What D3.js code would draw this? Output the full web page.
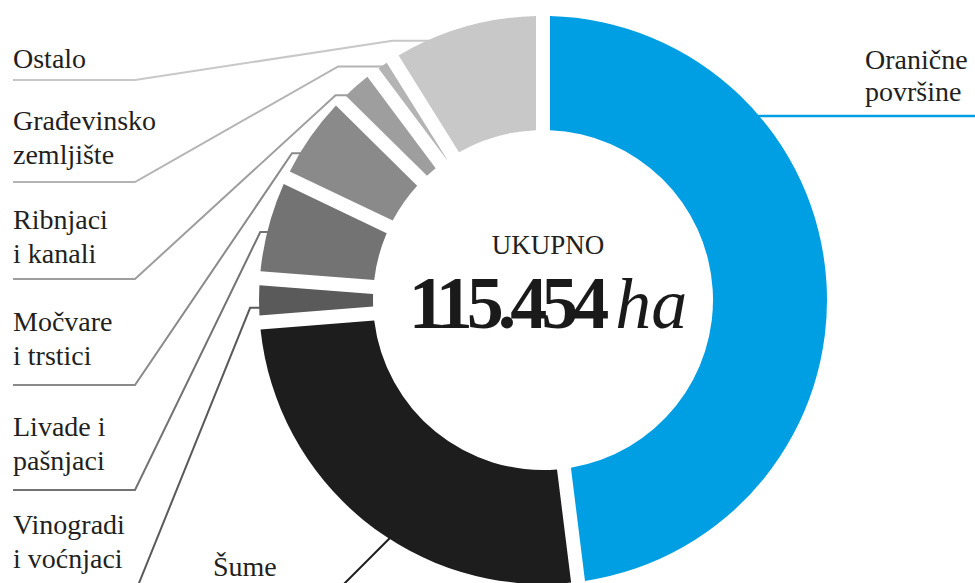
<!DOCTYPE html>
<html>
<head>
  <meta charset="utf-8">
  <script src="https://cdnjs.cloudflare.com/ajax/libs/d3/7.8.5/d3.min.js"></script>
  <style>
    body { margin: 0; background: #fff; overflow: hidden; }
  </style>
</head>
<body>
<div id="chart"></div>
<script>
// land use, clockwise from 12 o'clock (hectares)
var categories = ["Oranične površine", "Šume", "Vinogradi i voćnjaci", "Livade i pašnjaci",
                  "Močvare i trstici", "Ribnjaci i kanali", "Građevinsko zemljište", "Ostalo"];
var hectares = [58200, 30700, 2100, 6250, 5570, 1980, 680, 9974];
var colors = ["#009fe3", "#1d1d1d", "#5a5a5a", "#737373", "#8a8a8a", "#9e9e9e", "#b4b4b4", "#c8c8c8"];
var labelLines = [["Oranične", "površine"], ["Šume"], ["Vinogradi", "i voćnjaci"], ["Livade i", "pašnjaci"],
                  ["Močvare", "i trstici"], ["Ribnjaci", "i kanali"], ["Građevinsko", "zemljište"], ["Ostalo"]];
var totalTitle = "UKUPNO";
var totalValue = "115.454";
var totalUnit = "ha";

// layout of the leader lines: where on the slice they hit, row of the label
var anchorT = [0.286, 0.43, 0.33, 0.45, 0.3, 0.2, 0.5, 0.26];
var hookLen = [0, 0, 10, 8, 9, 12, 45, 37];
var underY = [0, 0, 593, 490, 385, 279, 182, 80];
var textGap = [0, 0, 25, 20, 20, 16, 18, 12];

var width = 975,
    height = 583;
var cx = 543, cy = 300,
    outerR = 284, innerR = 170,
    gap = 14;
var serif = "'Liberation Serif', 'Times New Roman', Times, 'DejaVu Serif', serif";

var svg = d3.select("#chart")
  .append("svg")
    .attr("width", width)
    .attr("height", height)
    .attr("font-family", serif);

var pie = d3.pie()
  .sort(null)
  .value(function(d) { return d; })
  .padAngle(gap / outerR);

var arc = d3.arc()
  .innerRadius(innerR)
  .outerRadius(outerR)
  .padRadius(outerR);

var arcs = pie(hectares);

var g = svg.append("g")
  .attr("transform", "translate(" + cx + "," + cy + ")");

g.selectAll("path")
  .data(arcs)
  .enter().append("path")
    .attr("d", arc)
    .style("fill", function(d, i) { return colors[i]; });

// point on the outer edge of slice i
function anchor(i, r) {
  var a = arcs[i].startAngle + anchorT[i] * (arcs[i].endAngle - arcs[i].startAngle);
  return [cx + r * Math.sin(a), cy - r * Math.cos(a)];
}

function label(x, y, str) {
  return svg.append("text")
    .attr("x", x)
    .attr("y", y)
    .attr("font-family", serif)
    .style("font-size", "28px")
    .style("fill", "#231f20")
    .text(str);
}

var lineGen = d3.line();
var lineH = 34;

// left side labels (Vinogradi .. Ostalo)
for (var i = 2; i < categories.length; i++) {
  var p = anchor(i, outerR - 1);
  var pts = [[13, underY[i]], [135, underY[i]], [p[0] - hookLen[i], p[1]], p];
  svg.append("path")
    .attr("d", lineGen(pts))
    .style("fill", "none")
    .style("stroke", colors[i])
    .style("stroke-width", 2);

  var lines = labelLines[i];
  var base = underY[i] - textGap[i];
  for (var j = 0; j < lines.length; j++) {
    label(13, base - (lines.length - 1 - j) * lineH, lines[j]);
  }
}

// Oranične povrsine, blue line to the right edge
var pb = anchor(0, outerR - 1);
svg.append("line")
  .attr("x1", pb[0]).attr("y1", pb[1])
  .attr("x2", width).attr("y2", pb[1])
  .style("stroke", colors[0])
  .style("stroke-width", 2.5);
labelLines[0].forEach(function(t, j) {
  label(865, pb[1] - 47 + j * 32, t);
});

// Sume, short diagonal into the black slice
var ps = anchor(1, outerR - 2);
svg.append("line")
  .attr("x1", ps[0]).attr("y1", ps[1])
  .attr("x2", ps[0] - 60).attr("y2", ps[1] + 60)
  .style("stroke", colors[1])
  .style("stroke-width", 2);
label(213, 576, labelLines[1][0]);

// total in the middle
label(cx + 5, 254, totalTitle)
  .attr("text-anchor", "middle")
  .style("font-size", "27px");

var total = svg.append("text")
  .attr("x", cx + 5)
  .attr("y", 328)
  .attr("text-anchor", "middle")
  .attr("font-family", serif)
  .style("fill", "#1a1a1a");
total.append("tspan")
  .style("font-size", "74px")
  .style("font-weight", "bold")
  .style("letter-spacing", "-6px")
  .text(totalValue);
total.append("tspan")
  .attr("dx", 12)
  .style("font-size", "72px")
  .style("font-style", "italic")
  .style("letter-spacing", "0px")
  .text(totalUnit);
</script>
</body>
</html>
